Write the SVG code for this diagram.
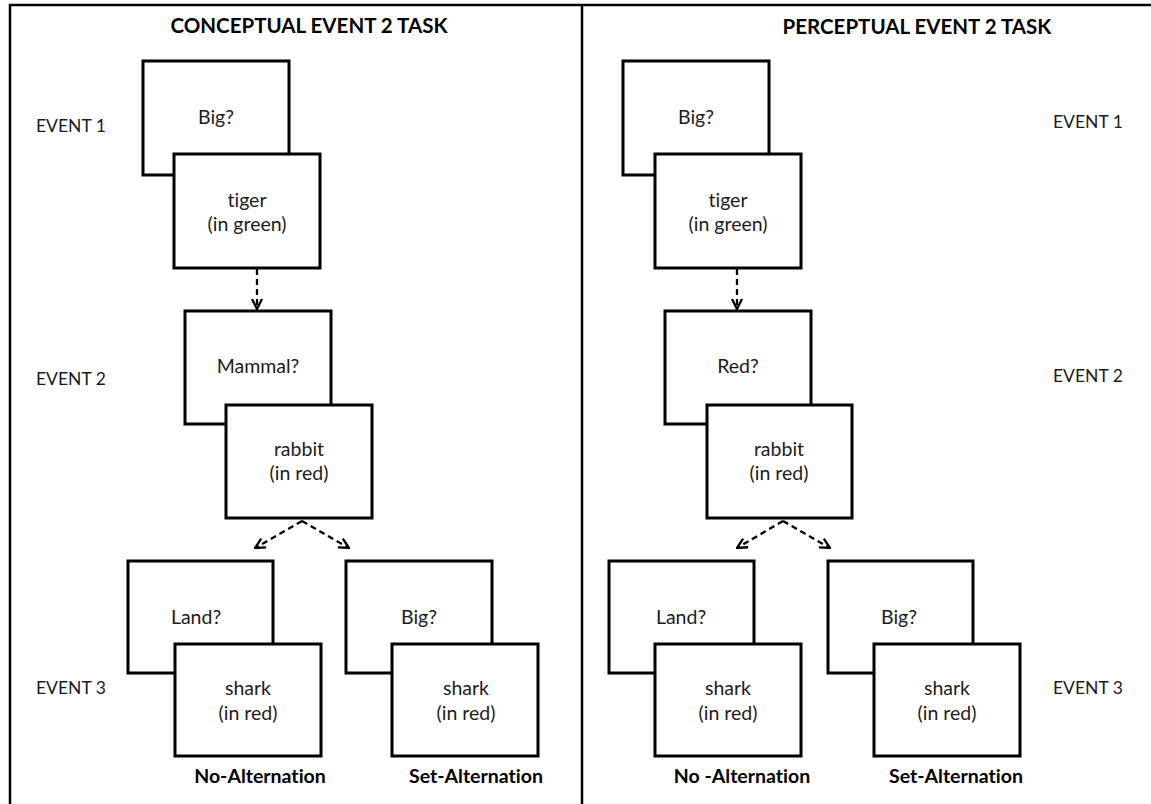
<svg xmlns="http://www.w3.org/2000/svg" width="1151" height="804" viewBox="0 0 1151 804">
<defs>
<style>
.frame{fill:none;stroke:#000;stroke-width:2.5}
.box{fill:#fff;stroke:#000;stroke-width:3}
text{font-variant-ligatures:none;font-feature-settings:"liga" 0,"dlig" 0}
.t{font-family:Lato,"Open Sans","Liberation Sans",sans-serif;font-size:19.5px;fill:#1c1c1c;text-anchor:middle}
.lbl{font-family:Lato,"Open Sans","Liberation Sans",sans-serif;font-size:17.5px;fill:#1c1c1c}
.h{font-family:Lato,"Open Sans","Liberation Sans",sans-serif;font-size:20.5px;font-weight:bold;fill:#000;text-anchor:middle}
.b{font-family:Lato,"Open Sans","Liberation Sans",sans-serif;font-size:19.5px;font-weight:bold;fill:#000;text-anchor:middle}
.arr{fill:none;stroke:#000;stroke-width:2.3;stroke-dasharray:6 4;marker-end:url(#ah)}
</style>
<marker id="ah" viewBox="0 0 12 12" refX="11" refY="6" markerWidth="12" markerHeight="12" markerUnits="userSpaceOnUse" orient="auto">
<path d="M1,1 L11,6 L1,11" fill="none" stroke="#000" stroke-width="2.3"/>
</marker>
</defs>
<rect x="0" y="0" width="1151" height="804" fill="#fff"/>
<g id="frame">
<path class="frame" d="M10,810 L10,5 L1160,5"/>
<line class="frame" x1="582" y1="5" x2="582" y2="810"/>
</g>
<g id="titles">
<text class="h" x="309" y="33">CONCEPTUAL EVENT 2 TASK</text>
<text class="h" x="917" y="34">PERCEPTUAL EVENT 2 TASK</text>
</g>
<g id="event-labels">
<text class="lbl" x="36" y="132">EVENT 1</text>
<text class="lbl" x="36" y="385">EVENT 2</text>
<text class="lbl" x="36" y="694">EVENT 3</text>
<text class="lbl" x="1053" y="128">EVENT 1</text>
<text class="lbl" x="1053" y="382">EVENT 2</text>
<text class="lbl" x="1053" y="694">EVENT 3</text>
</g>
<g id="connectors">
<line class="arr" x1="257" y1="269" x2="257" y2="309"/>
<line class="arr" x1="302" y1="521" x2="255" y2="548"/>
<line class="arr" x1="302" y1="521" x2="349" y2="548"/>
<line class="arr" x1="737" y1="269" x2="737" y2="309"/>
<line class="arr" x1="783" y1="521" x2="737" y2="548"/>
<line class="arr" x1="783" y1="521" x2="830" y2="548"/>
</g>
<g id="c-e1">
<rect class="box" x="143" y="61" width="146" height="114"/>
<text class="t" x="216" y="124">Big?</text>
<rect class="box" x="174" y="154" width="146" height="114"/>
<text class="t" x="247" y="207">tiger</text>
<text class="t" x="247" y="231">(in green)</text>
</g>
<g id="c-e2">
<rect class="box" x="185" y="311" width="146" height="113"/>
<text class="t" x="258" y="373">Mammal?</text>
<rect class="box" x="226" y="405" width="146" height="113"/>
<text class="t" x="299" y="456">rabbit</text>
<text class="t" x="299" y="480">(in red)</text>
</g>
<g id="c-e3-no">
<rect class="box" x="128" y="561" width="145" height="112"/>
<text class="t" x="196" y="624">Land?</text>
<rect class="box" x="175" y="644" width="146" height="112"/>
<text class="t" x="248" y="695">shark</text>
<text class="t" x="248" y="720">(in red)</text>
<text class="b" x="260" y="783">No-Alternation</text>
</g>
<g id="c-e3-set">
<rect class="box" x="346" y="561" width="146" height="112"/>
<text class="t" x="419" y="624">Big?</text>
<rect class="box" x="392" y="644" width="146" height="112"/>
<text class="t" x="466" y="695">shark</text>
<text class="t" x="466" y="720">(in red)</text>
<text class="b" x="476" y="783">Set-Alternation</text>
</g>
<g id="p-e1">
<rect class="box" x="623" y="61" width="146" height="114"/>
<text class="t" x="696" y="124">Big?</text>
<rect class="box" x="655" y="154" width="146" height="114"/>
<text class="t" x="728" y="207">tiger</text>
<text class="t" x="728" y="231">(in green)</text>
</g>
<g id="p-e2">
<rect class="box" x="665" y="311" width="146" height="113"/>
<text class="t" x="738" y="373">Red?</text>
<rect class="box" x="707" y="405" width="145" height="113"/>
<text class="t" x="779" y="456">rabbit</text>
<text class="t" x="779" y="480">(in red)</text>
</g>
<g id="p-e3-no">
<rect class="box" x="609" y="561" width="145" height="112"/>
<text class="t" x="681" y="624">Land?</text>
<rect class="box" x="655" y="644" width="146" height="112"/>
<text class="t" x="728" y="695">shark</text>
<text class="t" x="728" y="720">(in red)</text>
<text class="b" x="742" y="783">No -Alternation</text>
</g>
<g id="p-e3-set">
<rect class="box" x="828" y="561" width="145" height="112"/>
<text class="t" x="899" y="624">Big?</text>
<rect class="box" x="874" y="644" width="146" height="112"/>
<text class="t" x="947" y="695">shark</text>
<text class="t" x="947" y="720">(in red)</text>
<text class="b" x="956" y="783">Set-Alternation</text>
</g>
</svg>
